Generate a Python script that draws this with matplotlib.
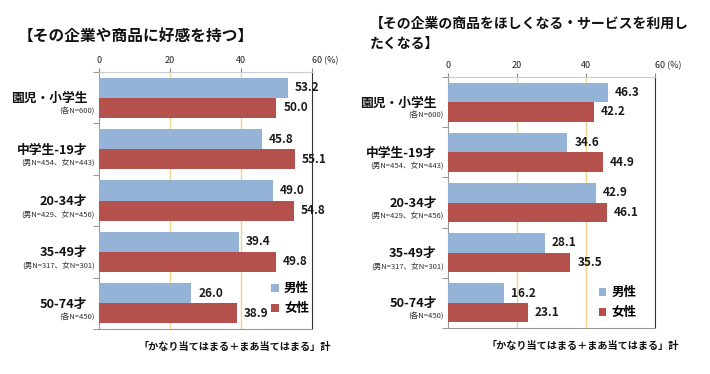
import matplotlib
matplotlib.use("Agg")
import matplotlib.pyplot as plt
import numpy as np
from matplotlib.transforms import ScaledTranslation

plt.rcParams['font.family'] = ['Noto Sans CJK JP', 'DejaVu Sans']

categories = ["園児・小学生", "中学生-19才", "20-34才", "35-49才", "50-74才"]
sample_notes = ["(各N=600)", "(男N=454、女N=443)", "(男N=429、女N=456)", "(男N=317、女N=301)", "(各N=450)"]
title_left = "【その企業や商品に好感を持つ】"
title_right = "【その企業の商品をほしくなる・サービスを利用し\nたくなる】"
left_male = [53.2, 45.8, 49.0, 39.4, 26.0]
left_female = [50.0, 55.1, 54.8, 49.8, 38.9]
right_male = [46.3, 34.6, 42.9, 28.1, 16.2]
right_female = [42.2, 44.9, 46.1, 35.5, 23.1]
xticks = [0, 20, 40, 60]
xtick_labels = ["0", "20", "40", "60 (%)"]
legend_labels = ["男性", "女性"]
footnote = "「かなり当てはまる＋まあ当てはまる」計"

BLUE = "#95B3D7"
RED = "#B5514D"

fig = plt.figure(figsize=(7.10, 3.74), dpi=100)


def draw(ax, male, female, leg_anchor):
    n = len(categories)
    y = np.arange(n)
    h = 0.39
    bm = ax.barh(y - h / 2, male, height=h, color=BLUE, zorder=3)
    bf = ax.barh(y + h / 2, female, height=h, color=RED, zorder=3)
    ax.set_xlim(0, 60)
    ax.set_ylim(n - 0.5, -0.5)
    for xv in [20, 40]:
        ax.axvline(xv, color="#F0D48A", lw=1.0, zorder=1)
    for bars, vals in ((bm, male), (bf, female)):
        for b, v in zip(bars, vals):
            ax.annotate(f"{v:.1f}", (v, b.get_y() + b.get_height() / 2),
                        xytext=(5, 0), textcoords="offset points",
                        ha="left", va="center", fontsize=8.5, fontweight="bold",
                        color="#1a1a1a", zorder=5)
    ax.xaxis.tick_top()
    ax.set_xticks(xticks)
    ax.set_xticklabels(xtick_labels, fontsize=6.5, color="#222222")
    lbl = ax.get_xticklabels()[-1]
    lbl.set_horizontalalignment("left")
    lbl.set_transform(lbl.get_transform() + ScaledTranslation(-6 / 100, 0, fig.dpi_scale_trans))
    ax.tick_params(axis="x", direction="out", length=3, color="#888888", pad=2)
    ax.set_yticks(np.arange(n + 1) - 0.5)
    ax.set_yticklabels([])
    ax.tick_params(axis="y", direction="out", length=4, color="#999999")
    for side in ["left", "bottom"]:
        ax.spines[side].set_color("#999999")
    ax.spines["top"].set_color("#CCCCCC")
    ax.spines["right"].set_color("#333333")
    for i in range(n):
        ax.text(-0.055, i + 0.02, categories[i], transform=ax.get_yaxis_transform(),
                ha="right", va="center", fontsize=9.2, fontweight="bold", color="#111111")
        ax.text(-0.02, i + 0.27, sample_notes[i], transform=ax.get_yaxis_transform(),
                ha="right", va="center", fontsize=5.5, color="#333333")
    ax.legend(handles=[bm, bf], labels=legend_labels, loc="lower left",
              bbox_to_anchor=leg_anchor, frameon=False,
              handlelength=0.6, handleheight=0.6, handletextpad=0.4,
              labelspacing=0.55, prop={"weight": "bold", "size": 9})
    return ax


ax1 = fig.add_axes([0.1394, 0.1203, 0.300, 0.687])
draw(ax1, left_male, left_female, (0.757, 0.01))
ax2 = fig.add_axes([0.631, 0.123, 0.2915, 0.671])
draw(ax2, right_male, right_female, (0.675, -0.01))

fig.text(18 / 710, 1 - 36 / 374, title_left, fontsize=11.3, fontweight="bold",
         ha="left", va="center", color="#111111")
fig.text(370 / 710, 1 - 34 / 374, title_right, fontsize=10, fontweight="bold",
         ha="left", va="center", color="#111111", linespacing=1.6)

fig.text(235 / 710, 1 - 347 / 374, footnote, fontsize=7.3, fontweight="bold",
         ha="center", va="center", color="#111111")
fig.text(583 / 710, 1 - 346 / 374, footnote, fontsize=7.3, fontweight="bold",
         ha="center", va="center", color="#111111")

fig.savefig("out.png", dpi=100)
